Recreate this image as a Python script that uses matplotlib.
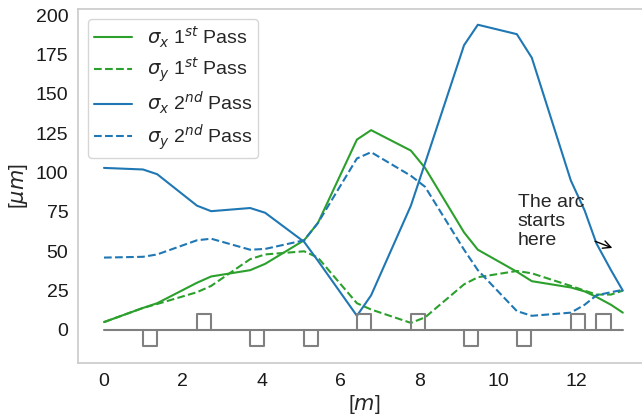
import matplotlib
matplotlib.use("Agg")
import matplotlib.pyplot as plt
import seaborn as sns

# positions along the line [m], vertices at the magnet edges
s = [0, 0.99, 1.35, 2.36, 2.72, 3.71, 4.09, 5.08, 5.43, 6.42, 6.78,
     7.79, 8.15, 9.14, 9.49, 10.48, 10.86, 11.85, 12.2, 12.5, 12.87, 13.17]

sigx_1st = [5, 14, 17, 30, 34, 38, 42, 57, 68, 121, 127,
            114, 103, 62, 51, 37, 31, 27, 24.5, 21, 16, 11]
sigy_1st = [5, 14, 16.5, 24, 28, 45, 48, 50, 46, 17, 13,
            4.5, 8, 29, 33.5, 37.5, 36, 28, 25, 22.5, 22.5, 25]
sigx_2nd = [103, 102, 99, 79, 75.5, 77.5, 74.5, 56, 44, 9, 22,
            79, 106, 181, 194, 188, 173, 95, 76, 55, 38, 25]
sigy_2nd = [46, 46.5, 48, 57, 58, 51, 51.5, 57, 68, 109, 113,
            98, 91, 51, 38, 12, 9, 11, 16, 22, 24, 25.5]

# magnet start, length and orientation (+1 above, -1 below)
mag_start = [0.99, 2.36, 3.71, 5.08, 6.42, 7.79, 9.14, 10.48, 11.85, 12.5]
mag_dir = [-1, 1, -1, -1, 1, 1, -1, -1, 1, 1]
mag_len = 0.36
mag_h = 10
line_end = 13.17

sns.set_style("white")
plt.rcParams["font.family"] = ["Liberation Sans", "DejaVu Sans"]
plt.rcParams["font.size"] = 14

fig = plt.figure(figsize=(6.42, 4.2), dpi=100)
ax = fig.add_axes([78 / 642, 57 / 420, 572 / 642, 354 / 420])

green = "#2ca02c"
blue = "#1f77b4"
ax.plot(s, sigx_1st, color=green, lw=1.5, label=r"$\sigma_x$ 1$^{st}$ Pass")
ax.plot(s, sigy_1st, color=green, lw=1.5, ls="--", label=r"$\sigma_y$ 1$^{st}$ Pass")
ax.plot(s, sigx_2nd, color=blue, lw=1.5, label=r"$\sigma_x$ 2$^{nd}$ Pass")
ax.plot(s, sigy_2nd, color=blue, lw=1.5, ls="--", label=r"$\sigma_y$ 2$^{nd}$ Pass")

# beamline sketch: baseline plus one closed box per magnet
ax.plot([0, line_end], [0, 0], color="gray", lw=1.5)
for x0, d in zip(mag_start, mag_dir):
    ax.plot([x0, x0, x0 + mag_len, x0 + mag_len],
            [0, d * mag_h, d * mag_h, 0], color="gray", lw=1.5)

ax.text(10.5, 69, "The arc\nstarts\nhere", ha="left", va="center", fontsize=14, color="#262626",
        linespacing=1.15)
ax.annotate("", xy=(12.97, 51.5), xytext=(12.4, 57),
            arrowprops=dict(arrowstyle="->", color="black", lw=1))

ax.set_xlim(-0.66, 13.86)
ax.set_ylim(-21, 204)
ax.set_xticks([0, 2, 4, 6, 8, 10, 12])
ax.set_yticks([0, 25, 50, 75, 100, 125, 150, 175, 200])
ax.tick_params(labelsize=14, colors="#1a1a1a")
ax.set_xlabel(r"[$m$]", fontsize=15, labelpad=2)
ax.set_ylabel(r"[$\mu m$]", fontsize=15)
for sp in ax.spines.values():
    sp.set_color("#cccccc")
    sp.set_linewidth(1.25)
ax.legend(loc="upper left", fontsize=14, handlelength=2.0, handletextpad=0.75,
          labelspacing=0.3, borderpad=0.3, borderaxespad=0.5)

fig.savefig("out.png", dpi=100)
